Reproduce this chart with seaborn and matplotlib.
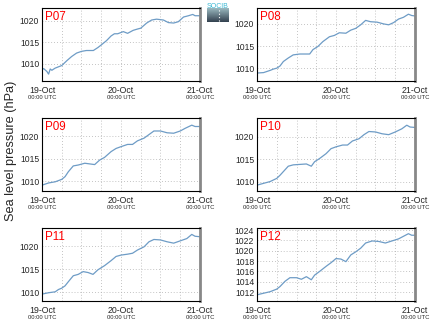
import numpy as np
import pandas as pd
import matplotlib
matplotlib.use("Agg")
import matplotlib.pyplot as plt
import seaborn as sns

# ---- data (hours since 19-Oct 00:00 UTC, sea level pressure hPa) ----
stations = ["P07", "P08", "P09", "P10", "P11", "P12"]

h_p07 = [0, 0.5, 1.5, 2, 2.5, 3, 4, 6, 7.5, 9, 10.5, 12, 13.5, 15.6, 17, 18, 19.6, 21, 22, 23, 24.7, 26,
         27.7, 29, 30, 31.8, 33.3, 34.8, 36.9, 38.4, 40, 41.4, 43, 44.5, 45.8, 46.5, 48]
p_p07 = [1008.6, 1008.9, 1008.2, 1007.6, 1008.8, 1008.5, 1009.0, 1009.6, 1010.7, 1011.7, 1012.5, 1012.9,
         1013.1, 1013.1, 1013.8, 1014.4, 1015.4, 1016.5, 1017.0, 1017.0, 1017.5, 1017.1, 1017.8, 1018.1,
         1018.3, 1019.5, 1020.2, 1020.4, 1020.2, 1019.6, 1019.5, 1019.8, 1020.9, 1021.2, 1021.5, 1021.2,
         1021.2]

h_p08 = [0, 2, 4, 5, 6, 7, 8, 9.5, 11, 13, 15, 16, 17, 18.5, 20, 22, 23.5, 25, 27, 28.5, 30, 31.5, 33,
         34.5, 36.5, 38.5, 40, 41.5, 43, 44.5, 46, 47, 48]
p_p08 = [1008.9, 1009.0, 1009.5, 1009.8, 1010.0, 1010.5, 1011.5, 1012.3, 1013.0, 1013.2, 1013.2, 1013.2,
         1014.2, 1014.9, 1016.0, 1017.1, 1017.4, 1018.0, 1017.9, 1018.6, 1019.0, 1019.8, 1020.8, 1020.5,
         1020.4, 1020.0, 1019.8, 1020.3, 1021.1, 1021.5, 1022.2, 1021.9, 1021.8]

h_p09 = [0, 2, 4, 6, 7, 8, 9.5, 11, 13, 15, 16, 17.5, 19, 21, 22.5, 24, 26, 27.5, 29, 31, 32.5, 34, 36,
         38, 40, 42, 43.5, 45.5, 46.5, 48]
p_p09 = [1009.1, 1009.6, 1009.85, 1010.4, 1011.0, 1012.1, 1013.4, 1013.6, 1014.0, 1013.8, 1013.7, 1014.7,
         1015.3, 1016.6, 1017.3, 1017.7, 1018.2, 1018.2, 1019.0, 1019.6, 1020.4, 1021.2, 1021.2, 1020.8,
         1020.7, 1021.2, 1021.8, 1022.5, 1022.2, 1022.2]

h_p10 = [0, 2, 4, 6, 7, 8, 9.5, 11, 13, 15, 16.5, 17.5, 19, 21, 22.5, 24, 26, 27.5, 29, 31, 32.5, 34, 36,
         38, 40, 42, 44, 45.5, 46.5, 48]
p_p10 = [1009.3, 1009.7, 1010.1, 1010.8, 1011.5, 1012.3, 1013.5, 1013.8, 1013.9, 1014.0, 1013.5, 1014.5,
         1015.2, 1016.3, 1017.4, 1017.8, 1018.2, 1018.2, 1019.1, 1019.6, 1020.5, 1021.2, 1021.1, 1020.7,
         1020.5, 1021.1, 1021.8, 1022.6, 1022.2, 1022.1]

h_p11 = [0, 2, 4, 5, 6, 7, 8, 9.5, 11, 12.5, 14, 15.5, 17, 19, 21, 22.5, 24, 26, 27.5, 29, 31, 32.5, 34,
         36, 38, 40, 42, 44, 45.5, 46.5, 48]
p_p11 = [1009.6, 1009.9, 1010.1, 1010.6, 1010.9, 1011.4, 1012.3, 1013.6, 1013.9, 1014.5, 1014.3, 1013.9,
         1014.9, 1015.8, 1016.9, 1017.8, 1018.1, 1018.3, 1018.5, 1019.2, 1019.9, 1021.0, 1021.5, 1021.4,
         1021.0, 1020.7, 1021.2, 1021.7, 1022.6, 1022.2, 1022.1]

h_p12 = [0, 2, 4, 6, 7, 8.5, 10, 12, 13.5, 15, 16.5, 17.5, 19, 21, 22.5, 24, 25.5, 27, 28.5, 30, 31.5,
         33, 35, 37, 39, 41, 43, 44.5, 46, 47, 48]
p_p12 = [1011.5, 1011.8, 1012.1, 1012.6, 1013.1, 1014.1, 1014.8, 1014.8, 1014.5, 1015.0, 1014.4, 1015.3,
         1016.0, 1017.0, 1017.7, 1018.5, 1018.4, 1017.9, 1019.2, 1019.8, 1020.5, 1021.5, 1021.9, 1021.8,
         1021.5, 1021.9, 1022.3, 1022.8, 1023.3, 1023.0, 1023.0]

hours = [h_p07, h_p08, h_p09, h_p10, h_p11, h_p12]
pressures = [p_p07, p_p08, p_p09, p_p10, p_p11, p_p12]
ylims = [(1006.0, 1023.0), (1007.1, 1023.6), (1007.8, 1024.1), (1008.0, 1024.2), (1008.1, 1024.0),
         (1010.3, 1024.4)]
ytick_sets = [[1010, 1015, 1020]] * 5 + [[1012, 1014, 1016, 1018, 1020, 1022, 1024]]
date_labels = ["19-Oct", "20-Oct", "21-Oct"]
date_hours = [0, 24, 48]
time_label = "00:00 UTC"
ylabel = "Sea level pressure (hPa)"

# ---- figure ----
sns.set_style("white")
plt.rcParams["font.family"] = ["Liberation Sans", "DejaVu Sans"]

W, H = 435, 327
fig = plt.figure(figsize=(W / 100, H / 100), dpi=100)

lefts = [42, 257]
tops = [8, 118, 228]
aw, ah = 158, 73
line_color = "#6e9cc6"

for i, name in enumerate(stations):
    r, c = divmod(i, 2)
    ax = fig.add_axes([lefts[c] / W, 1 - (tops[r] + ah) / H, aw / W, ah / H])
    df = pd.DataFrame({"hour": hours[i], "p": pressures[i]})
    sns.lineplot(data=df, x="hour", y="p", ax=ax, color=line_color, linewidth=0.9)
    ax.set_xlim(0, 48)
    ax.set_ylim(*ylims[i])
    ax.set_xlabel("")
    ax.set_ylabel("")
    ax.set_yticks(ytick_sets[i])
    ax.set_yticklabels([str(v) for v in ytick_sets[i]], fontsize=6.2)
    ax.set_xticks(np.arange(0, 49, 6))
    ax.set_xticklabels([])
    ax.tick_params(axis="both", length=0, pad=2)
    ax.grid(True, axis="both", color="#b0b0b0", linestyle=(0, (1, 2.5)), linewidth=0.6)
    for s in ["left", "bottom", "top"]:
        ax.spines[s].set_color("black")
        ax.spines[s].set_linewidth(0.8)
    ax.spines["right"].set_color("#888888")
    ax.spines["right"].set_linewidth(2.0)
    for dh, dl in zip(date_hours, date_labels):
        ax.annotate(dl, xy=(dh, 0), xycoords=("data", "axes fraction"), xytext=(0, -3.6),
                    textcoords="offset points", ha="center", va="top", fontsize=6.3)
        ax.annotate(time_label, xy=(dh, 0), xycoords=("data", "axes fraction"), xytext=(0, -10.2),
                    textcoords="offset points", ha="center", va="top", fontsize=4.2)
    ax.text(0.02, 0.96, name, transform=ax.transAxes, color="red", fontsize=8.4,
            ha="left", va="top")

fig.text(0.012, 1 - 151 / H, ylabel, rotation=90, va="center", ha="left", fontsize=9.2)

# small logo
lax = fig.add_axes([207 / W, 1 - 22 / H, 21 / W, 14 / H])
grad = np.linspace(0, 1, 50).reshape(-1, 1)
cmap = matplotlib.colors.LinearSegmentedColormap.from_list("logo", ["#9ab8bf", "#33414f"])
lax.imshow(grad, aspect="auto", cmap=cmap, extent=(0, 1, 0, 1), origin="upper")
lax.plot([0.55, 0.55], [0.1, 0.9], color="white", linestyle=(0, (1, 2)), linewidth=0.8)
lax.set_xlim(0, 1)
lax.set_ylim(0, 1)
lax.axis("off")
fig.text(217.5 / W, 1 - 2.5 / H, "SOCIB", color="#3bb8d4", fontsize=5, ha="center", va="top")

fig.savefig("out.png", dpi=100)
